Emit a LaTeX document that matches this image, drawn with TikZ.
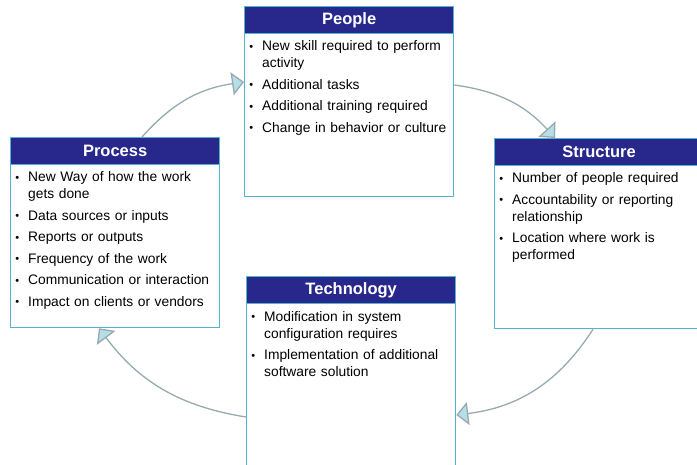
\documentclass[tikz,border=0pt]{standalone}
\usepackage{fontspec}
\setmainfont{Liberation Sans}
\usetikzlibrary{arrows.meta}

\definecolor{hdblue}{RGB}{40,40,140}
\definecolor{boxline}{RGB}{85,180,205}
\definecolor{cycgray}{RGB}{150,170,176}
\definecolor{tipfill}{RGB}{182,222,230}

% bullet list used inside the boxes
\newenvironment{bullets}{\begin{list}{\raisebox{0.5pt}{\fontsize{11}{11}\selectfont\textbullet}}{%
  \setlength{\leftmargin}{16pt}\setlength{\labelsep}{9pt}%
  \setlength{\labelwidth}{7pt}\setlength{\itemsep}{4.5pt}%
  \setlength{\parsep}{0pt}\setlength{\topsep}{0pt}\setlength{\partopsep}{0pt}}}%
  {\end{list}}

\begin{document}
\begin{tikzpicture}[x=1pt,y=1pt,
    box/.style={draw=boxline,line width=1.3pt,fill=white,minimum width=209pt,
      minimum height=190pt,anchor=north west,inner sep=0pt},
    head/.style={draw=boxline,line width=1.3pt,fill=hdblue,text=white,
      font=\fontsize{16.5}{18}\selectfont\bfseries,minimum width=209pt,
      minimum height=27pt,anchor=north,inner sep=0pt},
    body/.style={anchor=north west,inner sep=0pt,text width=204pt,
      font=\fontsize{13.8}{17}\selectfont},
    cyc/.style={draw=cycgray,line width=1.3pt,bend left=20,
      -{Triangle[length=12pt,width=23pt,fill=tipfill]}}]
    \useasboundingbox (0,0) rectangle (697,465);
    \clip (0,0) rectangle (697,465);
    % the four boxes with their headers
    \foreach \n/\x/\y/\t in {people/244/459/People, process/10/328/Process,
        structure/494/327/Structure, technology/246/189/Technology} {
      \node[box] (\n) at (\x,\y) {};
      \node[head] (\n-h) at (\n.north) {\t};
    }
    \node[body] (people-txt) at ([xshift=2pt,yshift=0.5pt]people-h.south west) {%
      \begin{bullets}
        \item New skill required to perform\\activity
        \item Additional tasks
        \item Additional training required
        \item Change in behavior or culture
      \end{bullets}};
    \node[body] (process-txt) at ([xshift=2pt,yshift=0.5pt]process-h.south west) {%
      \begin{bullets}
        \item New Way of how the work\\gets done
        \item Data sources or inputs
        \item Reports or outputs
        \item Frequency of the work
        \item Communication or interaction
        \item Impact on clients or vendors
      \end{bullets}};
    \node[body] (structure-txt) at ([xshift=2pt,yshift=0.5pt]structure-h.south west) {%
      \begin{bullets}
        \item Number of people required
        \item Accountability or reporting\\relationship
        \item Location where work is\\performed
      \end{bullets}};
    \node[body] (technology-txt) at ([xshift=2pt,yshift=0pt]technology-h.south west) {%
      \begin{bullets}
        \item Modification in system\\configuration requires
        \item Implementation of additional\\software solution
      \end{bullets}};
    % cycle arrows
    \draw[cyc] ([xshift=132pt]process.north west) to ([yshift=-76pt]people.north west);
    \draw[cyc] ([yshift=-79pt]people.north east) to ([xshift=61pt]structure.north west);
    \draw[cyc,bend left=25] ([xshift=99pt]structure.south west) to ([yshift=-139pt]technology.north east);
    \draw[cyc,bend left=22] ([yshift=-141pt]technology.north west) to ([xshift=89pt]process.south west);
\end{tikzpicture}
\end{document}
